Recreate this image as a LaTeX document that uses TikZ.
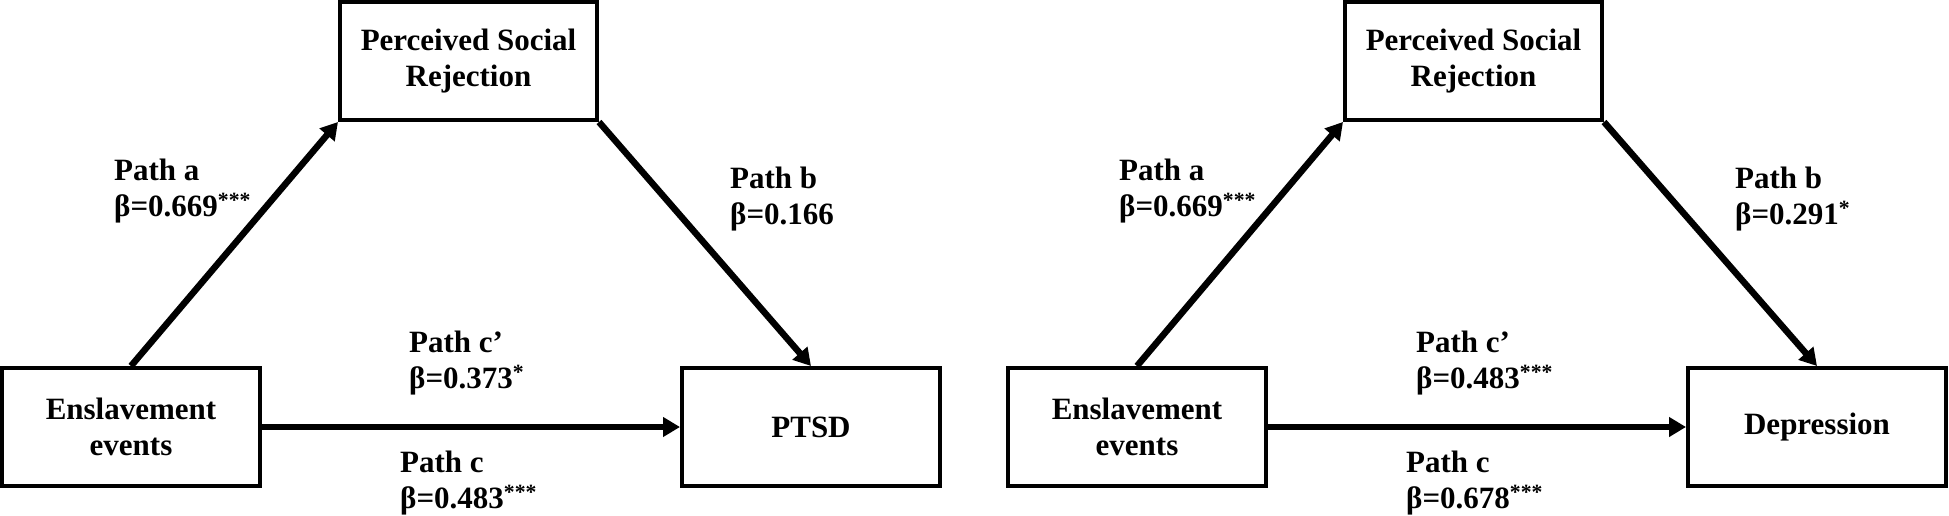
\documentclass[tikz,border=0pt]{standalone}
\usepackage{fontspec}
\setmainfont{Liberation Serif}
\usetikzlibrary{arrows.meta}
\begin{document}
\begin{tikzpicture}[x=1pt,y=-1pt,
  box/.style={draw, line width=4pt, minimum width=258pt, minimum height=118pt, inner sep=0pt, align=center, font=\fontsize{31}{36}\selectfont\bfseries},
  lab/.style={anchor=north west, inner sep=0pt, align=left, font=\fontsize{31}{36}\selectfont\bfseries},
  arr/.style={line width=6.5pt, -{Triangle[length=17pt,width=19pt]}}]
\useasboundingbox (0,0) rectangle (1949,516);
% left panel
\node[box] (ens1) at (131,427) {Enslavement\\events};
\node[box, minimum width=257pt] (psr1) at (468.5,61) {\raisebox{-3pt}{Perceived Social}\\\raisebox{-3pt}{Rejection}};
\node[box] (ptsd) at (811,427) {PTSD};
\draw[arr] (ens1.north) -- (psr1.south west);
\draw[arr] (psr1.south east) -- (ptsd.north);
\draw[arr] (ens1.east) -- (ptsd.west);
\node[lab] (la1) at (114,159) {Path a\\β=0.669\textsuperscript{***}};
\node[lab] (lb1) at (730,167) {Path b\\β=0.166};
\node[lab] (lcp1) at (409,331) {Path c’\\β=0.373\textsuperscript{*}};
\node[lab] (lc1) at (400,451) {Path c\\β=0.483\textsuperscript{***}};
% right panel
\node[box] (ens2) at (1137,427) {Enslavement\\events};
\node[box, minimum width=257pt] (psr2) at (1473.5,61) {\raisebox{-3pt}{Perceived Social}\\\raisebox{-3pt}{Rejection}};
\node[box] (dep) at (1817,427) {Depression};
\draw[arr] (ens2.north) -- (psr2.south west);
\draw[arr] (psr2.south east) -- (dep.north);
\draw[arr] (ens2.east) -- (dep.west);
\node[lab] (la2) at (1119,159) {Path a\\β=0.669\textsuperscript{***}};
\node[lab] (lb2) at (1735,167) {Path b\\β=0.291\textsuperscript{*}};
\node[lab] (lcp2) at (1416,331) {Path c’\\β=0.483\textsuperscript{***}};
\node[lab] (lc2) at (1406,451) {Path c\\β=0.678\textsuperscript{***}};
\end{tikzpicture}
\end{document}
